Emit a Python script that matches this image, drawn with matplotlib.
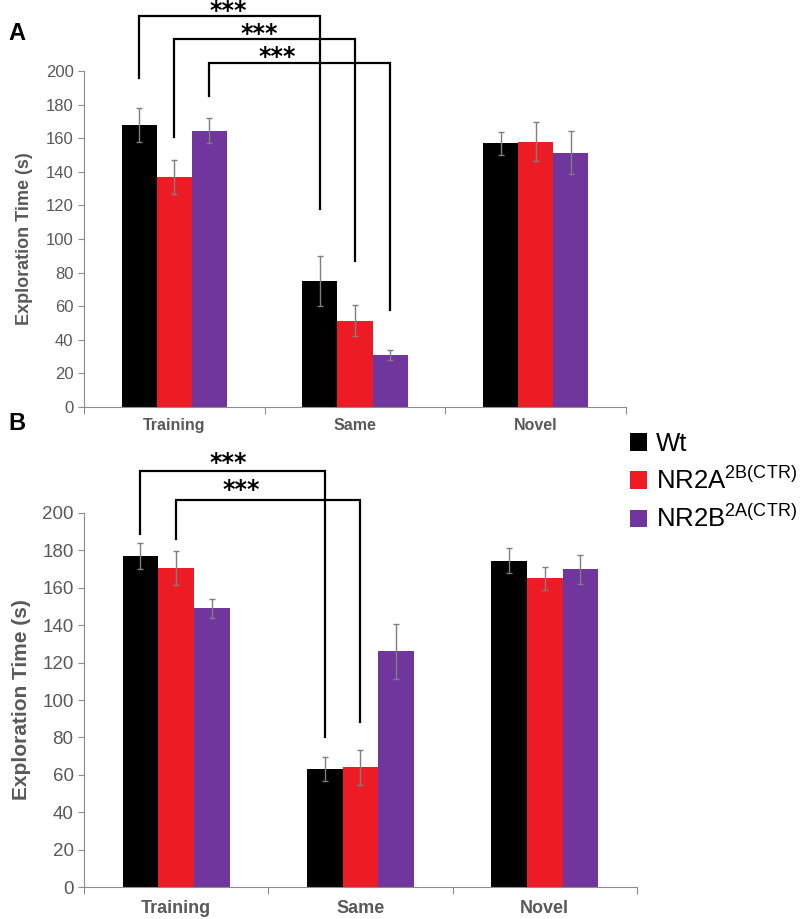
import numpy as np
import matplotlib.pyplot as plt
from matplotlib.patches import Patch

plt.rcParams['font.family'] = ['Liberation Sans', 'DejaVu Sans']

groups = ["Training", "Same", "Novel"]
series = ["Wt", r"NR2A$^{\mathregular{2B(CTR)}}$", r"NR2B$^{\mathregular{2A(CTR)}}$"]
colors = ["#000000", "#ED1C24", "#70369D"]

# panel A: mean and error per series, ordered Training, Same, Novel
a_means = [[168, 75, 157], [137, 51.5, 158], [164.5, 31, 151.5]]
a_errs = [[10, 15, 7], [10, 9.3, 11.5], [7.5, 3, 13]]

# panel B
b_means = [[177, 63, 174.5], [170.5, 64, 165], [149, 126, 170]]
b_errs = [[7, 6.5, 6.7], [9, 9.5, 6], [5, 14.6, 7.8]]

# brackets: (left group, left series, right group, right series,
#            top, left leg end, right leg end, star x, star y)
a_brackets = [
    (0, 0, 1, 0, 233, 196, 118, 0.297, 236),
    (0, 1, 1, 1, 219, 161, 87, 0.468, 222),
    (0, 2, 1, 2, 205, 185, 58, 0.568, 208.5),
]
b_brackets = [
    (0, 0, 1, 0, 222.5, 189, 80, 0.283, 226.5),
    (0, 1, 1, 1, 207, 186, 88, 0.353, 212.5),
]

width = 0.194
gray = "#595959"
spine_gray = "#8c8c8c"


def draw_panel(ax, means, errs, brackets, tick_size, cat_size, ylab_size, pad):
    x = np.arange(len(groups))
    for i in range(len(series)):
        pos = x + (i - 1) * width
        ax.bar(pos, means[i], width, color=colors[i], zorder=2)
        ax.errorbar(pos, means[i], yerr=errs[i], fmt="none", ecolor="#7f7f7f",
                    elinewidth=1, capsize=2.5, capthick=1, zorder=3)

    for g1, s1, g2, s2, top, l1, l2, sx, sy in brackets:
        x1 = g1 + (s1 - 1) * width
        x2 = g2 + (s2 - 1) * width
        ax.plot([x1, x1, x2, x2], [l1, top, top, l2], color="black", lw=1.6,
                clip_on=False, solid_joinstyle="miter", zorder=4)
        ax.text(sx, sy, "***", ha="center", va="center", fontsize=17,
                fontweight="bold", family="DejaVu Sans", clip_on=False)

    ax.set_xlim(-0.5, 2.5)
    ax.set_ylim(0, 200)
    ax.set_yticks(range(0, 201, 20))
    ax.set_xticks([-0.5, 0.5, 1.5, 2.5])
    ax.set_xticklabels([])
    ax.set_xticks(x, minor=True)
    ax.set_xticklabels(groups, minor=True, fontweight="bold", color=gray,
                       fontsize=cat_size)
    ax.tick_params(axis="x", which="minor", length=0, pad=pad)
    ax.tick_params(axis="x", which="major", length=5, color=spine_gray)
    ax.tick_params(axis="y", length=4, color=spine_gray, labelcolor=gray,
                   labelsize=tick_size)
    for side in ["top", "right"]:
        ax.spines[side].set_visible(False)
    for side in ["left", "bottom"]:
        ax.spines[side].set_color(spine_gray)
    ax.set_ylabel("Exploration Time (s)", fontweight="bold", color=gray,
                  fontsize=ylab_size)
    ax.yaxis.set_label_coords(-0.095, 0.5)


fig = plt.figure(figsize=(8, 9.19), dpi=100)
ax_a = fig.add_axes([0.105, 0.5571, 0.6775, 0.3656])
ax_b = fig.add_axes([0.105, 0.0348, 0.691, 0.4070])

draw_panel(ax_a, a_means, a_errs, a_brackets, 12, 11.5, 13, 8)
draw_panel(ax_b, b_means, b_errs, b_brackets, 13.5, 13, 15, 9)

fig.text(0.01, 1 - 34 / 919, "A", fontsize=17, fontweight="bold", va="center")
fig.text(0.01, 1 - 423 / 919, "B", fontsize=17, fontweight="bold", va="center")

handles = [Patch(facecolor=c) for c in colors]
fig.legend(handles, series, loc="upper left",
           bbox_to_anchor=(630 / 800, 1 - 432 / 919), frameon=False,
           fontsize=18.5, handlelength=0.65, handleheight=0.65,
           handletextpad=0.35, labelspacing=0.4, borderpad=0,
           borderaxespad=0)

plt.savefig("out.png", dpi=100)
